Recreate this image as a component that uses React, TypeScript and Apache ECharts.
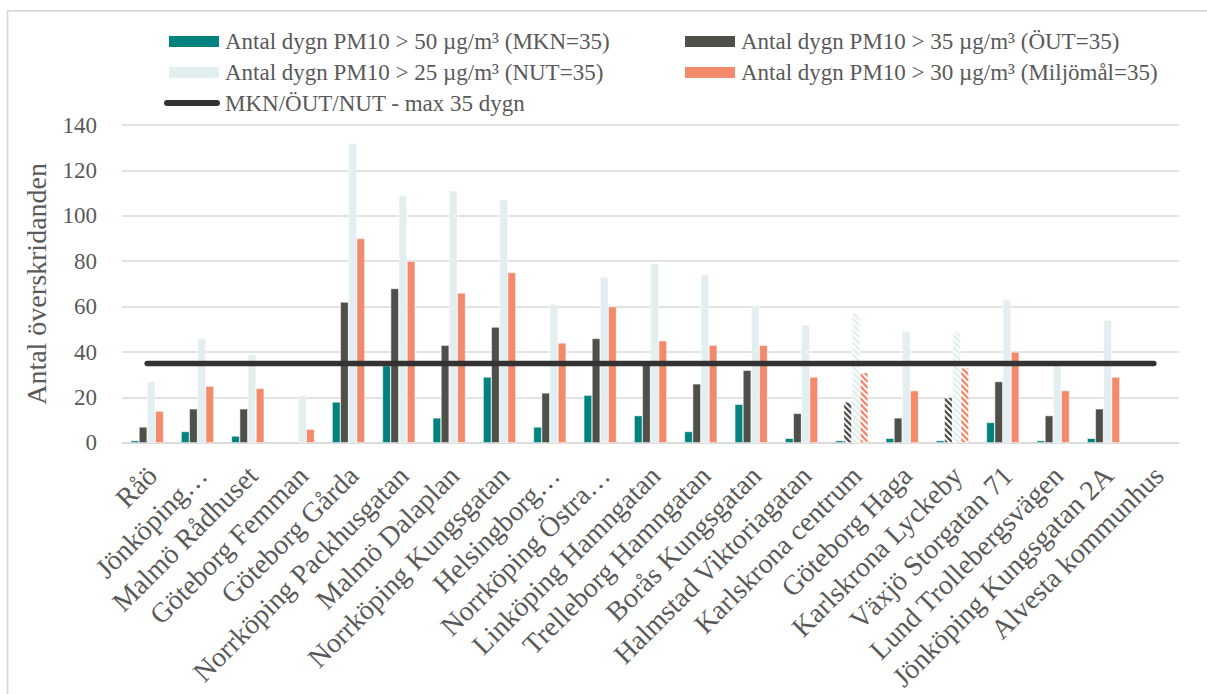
import React, { useEffect, useRef } from "react";
import * as echarts from "echarts";

// Monitoring stations (x-axis categories)
const stations = [
  "Råö",
  "Jönköping…",
  "Malmö Rådhuset",
  "Göteborg Femman",
  "Göteborg Gårda",
  "Norrköping Packhusgatan",
  "Malmö Dalaplan",
  "Norrköping Kungsgatan",
  "Helsingborg…",
  "Norrköping Östra…",
  "Linköping Hamngatan",
  "Trelleborg Hamngatan",
  "Borås Kungsgatan",
  "Halmstad Viktoriagatan",
  "Karlskrona centrum",
  "Göteborg Haga",
  "Karlskrona Lyckeby",
  "Växjö Storgatan 71",
  "Lund Trollebergsvägen",
  "Jönköping Kungsgatan 2A",
  "Alvesta kommunhus",
];

// Number of days above each threshold
const daysOver50 = [1, 5, 3, null, 18, 34, 11, 29, 7, 21, 12, 5, 17, 2, 1, 2, 1, 9, 1, 2, null];
const daysOver35 = [7, 15, 15, null, 62, 68, 43, 51, 22, 46, 35, 26, 32, 13, 18, 11, 20, 27, 12, 15, null];
const daysOver25 = [27, 46, 39, 21, 132, 109, 111, 107, 61, 73, 79, 74, 60, 52, 57, 49, 49, 63, 35, 54, null];
const daysOver30 = [14, 25, 24, 6, 90, 80, 66, 75, 44, 60, 45, 43, 43, 29, 31, 23, 33, 40, 23, 29, null];

// Limit line (max 35 days)
const limitDays = stations.map(() => 35);

// Stations whose bars are drawn hatched
const hatchedStations = ["Karlskrona centrum", "Karlskrona Lyckeby"];

const yTicks = { min: 0, max: 140, interval: 20 };

const seriesNames = [
  "Antal dygn PM10 > 50 µg/m³ (MKN=35)",
  "Antal dygn PM10 > 35 µg/m³ (ÖUT=35)",
  "Antal dygn PM10 > 25 µg/m³ (NUT=35)",
  "Antal dygn PM10 > 30 µg/m³ (Miljömål=35)",
  "MKN/ÖUT/NUT - max 35 dygn",
];

const colors = ["#00827f", "#50504b", "#e2eef0", "#f28a6b", "#333333"];

const FONT = "Liberation Serif";
const TEXT = "#595959";

// Downward diagonal stripes on white, as a repeating canvas tile
function stripeTile(color: string) {
  const s = 6;
  const c = document.createElement("canvas");
  c.width = s;
  c.height = s;
  const ctx = c.getContext("2d")!;
  ctx.fillStyle = "#ffffff";
  ctx.fillRect(0, 0, s, s);
  ctx.strokeStyle = color;
  ctx.lineWidth = 2.3;
  ctx.lineCap = "square";
  for (const dx of [-s, 0, s]) {
    ctx.beginPath();
    ctx.moveTo(dx, 0);
    ctx.lineTo(dx + s, s);
    ctx.stroke();
  }
  return { image: c, repeat: "repeat" };
}

function barData(values: (number | null)[], color: string, hatch: boolean) {
  const pattern = hatch ? stripeTile(color) : null;
  return values.map((v, i) => {
    if (pattern && hatchedStations.includes(stations[i])) {
      return { value: v, itemStyle: { color: pattern } };
    }
    return v;
  });
}

export default function App() {
  const ref = useRef<HTMLDivElement>(null);

  useEffect(() => {
    if (!ref.current) return;
    const chart = echarts.init(ref.current, undefined, { renderer: "svg" });

    const legendCommon = {
      orient: "horizontal" as const,
      itemWidth: 52,
      itemHeight: 13,
      icon: "rect",
      selectedMode: false,
      padding: 0,
      textStyle: { color: TEXT, fontFamily: FONT, fontSize: 23, lineHeight: 24 },
    };

    const bars = [daysOver50, daysOver35, daysOver25, daysOver30].map((vals, k) => ({
      name: seriesNames[k],
      type: "bar" as const,
      data: barData(vals, colors[k], k > 0),
      barGap: "0%",
      barCategoryGap: "35%",
      itemStyle: { color: colors[k], borderColor: "#ffffff", borderWidth: 0.5 },
      z: 2,
    }));

    chart.setOption({
      animation: false,
      backgroundColor: "#ffffff",
      textStyle: { fontFamily: FONT },
      graphic: [
        {
          type: "rect",
          shape: { x: 7.5, y: 10.8, width: 1400, height: 900 },
          style: { fill: "none", stroke: "#d9d9d9", lineWidth: 1.7 },
          silent: true,
          z: -10,
        },
      ],
      legend: [
        { ...legendCommon, data: [seriesNames[0]], left: 167, top: 29.5 },
        { ...legendCommon, data: [seriesNames[1]], left: 683, top: 29.5 },
        { ...legendCommon, data: [seriesNames[2]], left: 167, top: 60.5 },
        { ...legendCommon, data: [seriesNames[3]], left: 683, top: 60.5 },
        {
          ...legendCommon,
          data: [seriesNames[4]],
          left: 164,
          top: 91,
          itemWidth: 56,
          itemHeight: 6,
          icon: "path://M3,0 L53,0 A3,3 0 0 1 53,6 L3,6 A3,3 0 0 1 3,0 Z",
        },
      ],
      grid: { left: 122, right: 28, top: 125, bottom: 247, containLabel: false },
      xAxis: {
        type: "category",
        data: stations,
        axisTick: { show: false },
        axisLine: { lineStyle: { color: "#d9d9d9", width: 1.5 } },
        axisLabel: {
          interval: 0,
          rotate: 45,
          margin: 23,
          verticalAlign: "top",
          lineHeight: 14,
          color: TEXT,
          fontFamily: FONT,
          fontSize: 28,
        },
      },
      yAxis: {
        type: "value",
        min: yTicks.min,
        max: yTicks.max,
        interval: yTicks.interval,
        name: "Antal överskridanden",
        nameLocation: "middle",
        nameGap: 72,
        nameTextStyle: { color: TEXT, fontFamily: FONT, fontSize: 28 },
        axisLine: { show: false },
        axisTick: { show: false },
        axisLabel: { color: TEXT, fontFamily: FONT, fontSize: 23, margin: 25 },
        splitLine: { lineStyle: { color: "#d9d9d9", width: 1.5 } },
      },
      series: [
        ...bars,
        {
          name: seriesNames[4],
          type: "line",
          data: limitDays,
          symbol: "none",
          lineStyle: { color: colors[4], width: 5.5, cap: "round" },
          itemStyle: { color: colors[4] },
          z: 5,
        },
      ],
    });

    return () => chart.dispose();
  }, []);

  return (
    <div
      ref={ref}
      style={{ position: "fixed", left: 0, top: 0, width: 1207, height: 694 }}
    />
  );
}
